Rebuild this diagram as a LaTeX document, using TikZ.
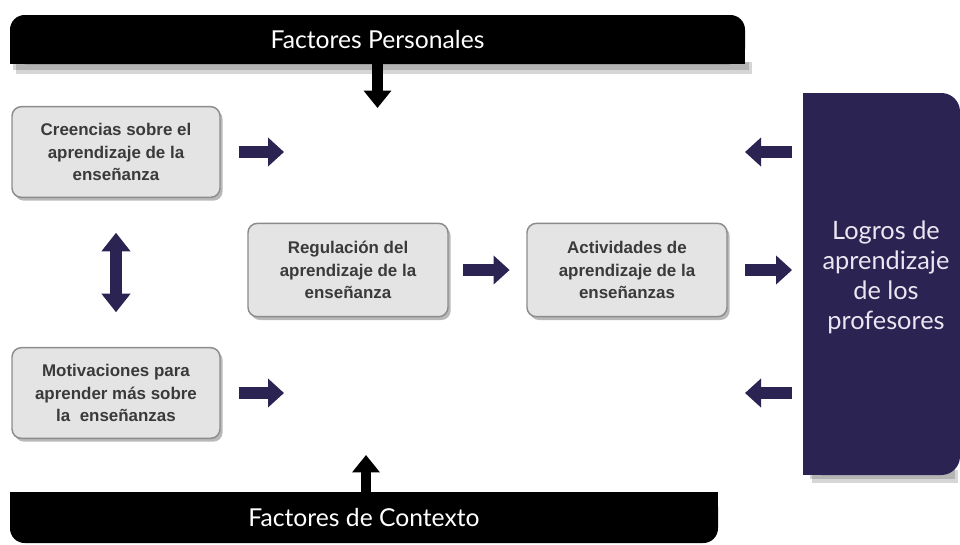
\documentclass[tikz,border=0pt]{standalone}
\usepackage{fontspec}
\setmainfont{Liberation Sans}
\newfontfamily\latofont{Lato}
\usetikzlibrary{arrows.meta,shadows}
\definecolor{navy}{HTML}{2B2352}
\definecolor{boxfill}{HTML}{E4E4E4}
\definecolor{boxline}{HTML}{8C8C8C}
\definecolor{boxtext}{HTML}{3A3A3A}
\definecolor{lilac}{HTML}{ECE6F2}
\begin{document}
\begin{tikzpicture}[x=0.75pt,y=-0.75pt,
  box/.style={rectangle, rounded corners=7pt, fill=boxfill, draw=boxline, line width=1.1pt,
    minimum width=156pt, minimum height=68pt, inner sep=0pt, align=center, text=boxtext,
    font=\fontsize{12.7}{17}\selectfont\bfseries,
    drop shadow={shadow xshift=2pt, shadow yshift=-2.5pt, opacity=0.55}},
  bannertext/.style={inner sep=0pt, text=white, font=\latofont\fontsize{18.5}{22}\selectfont},
  fat/.style={draw=navy, line width=8.5pt, -{Triangle[length=12pt, width=21pt]}},
  fatblack/.style={draw=black, line width=8pt, -{Triangle[length=13pt, width=20pt]}},
  fatboth/.style={draw=navy, line width=8.5pt, {Triangle[length=14pt, width=21pt]}-{Triangle[length=14pt, width=21pt]}},
  shade/.style={fill=black, opacity=0.16}
]
\useasboundingbox (0,0) rectangle (960,544);

% ---- top banner ----
\fill[shade] (16,62) rectangle (752,74);
\fill[shade] (13,62) rectangle (749,70);
\fill[black, rounded corners=11pt] (10,15) rectangle (745,64);
\fill[black] (10,40) rectangle (745,64);
\node[bannertext, minimum width=551.25pt, minimum height=36.75pt] (pers) at (377.5,39.5) {Factores Personales};

% ---- bottom banner ----
\fill[black, rounded corners=11pt] (10,492) rectangle (718,543);
\fill[black] (10,492) rectangle (718,515);
\node[bannertext, minimum width=531pt, minimum height=38.25pt] (ctx) at (364,517.5) {Factores de Contexto};

% ---- right box ----
\fill[shade] (812,470) rectangle (958,483);
\fill[shade] (810,470) rectangle (955,479);
\fill[navy, rounded corners=14pt] (803,93) rectangle (960,475);
\fill[navy] (803,93) rectangle (850,475);
\node[inner sep=0pt, minimum width=117.75pt, minimum height=286.5pt] (logros) at (881.5,284) {};
\node[inner sep=0pt, align=center, text=lilac, font=\latofont\fontsize{19}{22.5}\selectfont] (logrostxt) at (886,277)
  {Logros de\\aprendizaje\\de los\\profesores};

% ---- grey boxes ----
\node[box] (b1) at (116,152) {Creencias sobre el\\aprendizaje de la\\enseñanza};
\node[box] (b2) at (116,393) {Motivaciones para\\aprender más sobre\\la\ \ enseñanzas};
\node[box, minimum width=150pt, minimum height=70pt] (reg) at (348,270) {Regulación del\\aprendizaje de la\\enseñanza};
\node[box, minimum width=150pt, minimum height=70pt] (act) at (627,270) {Actividades de\\aprendizaje de la\\enseñanzas};

% ---- coordinates for free ends ----
\coordinate (ptip) at (377.5,108);
\coordinate (ctip) at (366,455);
\coordinate (r1) at (284,152);
\coordinate (r2) at (284,393);
\coordinate (l1) at (745,152);
\coordinate (l2) at (745,393);

% ---- connectors ----
\draw[fatblack] (pers.south) -- (ptip);
\draw[fatblack] (ctip |- ctx.north) -- (ctip);
\draw[fat, shorten <=13.5pt] (b1.east) -- (r1);
\draw[fat, shorten <=13.5pt] (b2.east) -- (r2);
\draw[fatboth, shorten <=26pt, shorten >=26pt] (b1.south) -- (b2.north);
\draw[fat, shorten <=11pt, shorten >=12.5pt] (reg.east) -- (act.west);
\draw[fat, shorten <=13pt, shorten >=8pt] (act.east) -- (logros.west |- act.east);
\draw[fat, shorten <=8pt] (logros.west |- l1) -- (l1);
\draw[fat, shorten <=8pt] (logros.west |- l2) -- (l2);
\end{tikzpicture}
\end{document}
